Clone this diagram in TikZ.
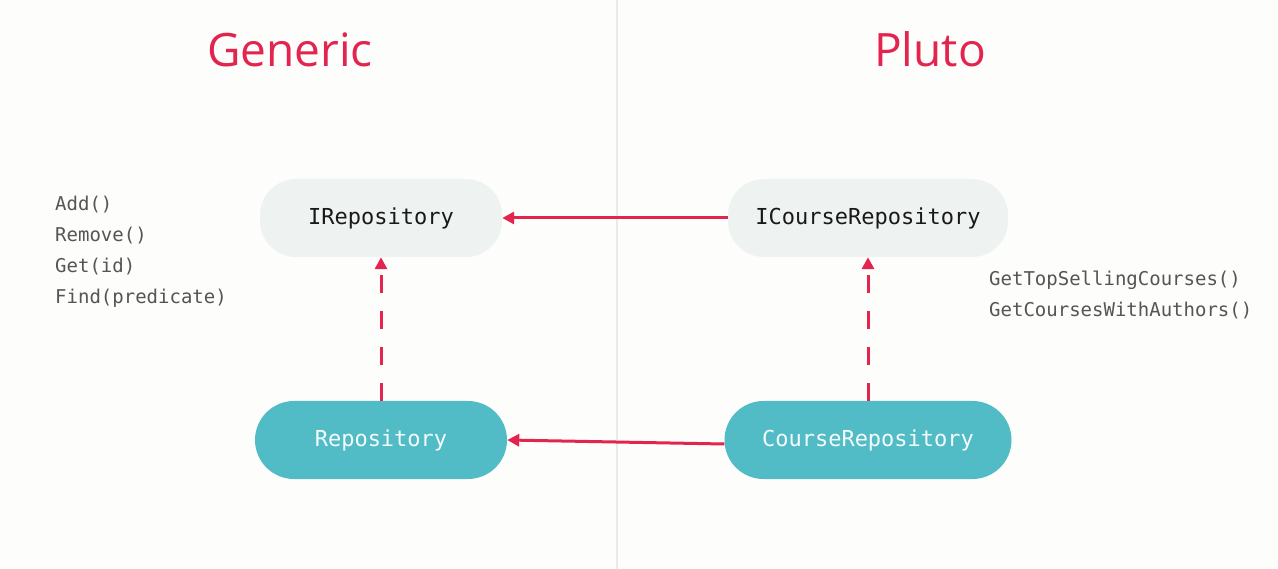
\documentclass[tikz,border=0pt]{standalone}
\usepackage{fontspec}
\setmainfont{Open Sans}
\setmonofont{DejaVu Sans Mono}
\usetikzlibrary{arrows.meta,positioning}
\definecolor{plured}{HTML}{E3244F}
\definecolor{paleface}{HTML}{EEF3F1}
\definecolor{tealface}{HTML}{52BCC6}
\definecolor{methodgray}{HTML}{555555}
\definecolor{pagebg}{HTML}{FDFDFB}
\definecolor{divider}{HTML}{E9E9E7}

\begin{document}
\begin{tikzpicture}[x=1pt,y=-1pt,
  title/.style={font=\fontsize{46}{50}\selectfont,text=plured,anchor=base},
  iface/.style={fill=paleface,rounded corners=36pt,minimum height=78pt,font=\fontsize{22}{24}\selectfont\ttfamily,text=black!90},
  impl/.style={fill=tealface,rounded corners=39pt,minimum height=78pt,font=\fontsize{22}{24}\selectfont\ttfamily,text=white!94!tealface},
  methods/.style={font=\fontsize{19}{31}\selectfont\ttfamily,text=methodgray,align=left,anchor=north west,inner sep=0pt},
  arr/.style={-{Triangle[width=12pt,length=12pt]},draw=plured,line width=3pt},
  implarr/.style={arr,dash pattern=on 18pt off 18pt}]
\useasboundingbox[fill=pagebg] (0,0) rectangle (1278,569);
\draw[divider,line width=2pt] (617,0) -- (617,569);
% titles
\node[title] (generic) at (290,67) {Generic};
\node[title] (pluto) at (930,67) {Pluto};
% interfaces and classes
\node[iface,minimum width=242pt] (irepo) at (381,218) {IRepository};
\node[iface,minimum width=280pt] (icrepo) at (868,218) {ICourseRepository};
\node[impl,minimum width=252pt] (repo) at (381,440) {Repository};
\node[impl,minimum width=287pt] (crepo) at (868,440) {CourseRepository};
% method lists
\node[methods] (genmethods) at (55,196) {Add()\\Remove()\\Get(id)\\Find(predicate)};
\node[methods] (plutomethods) at (989,271) {GetTopSellingCourses()\\GetCoursesWithAuthors()};
\draw[arr] (icrepo.west) -- (irepo.east);
\draw[arr] ([yshift=-4pt]crepo.west) -- (repo.east);
\draw[implarr] (repo.north) -- (irepo.south);
\draw[implarr] (crepo.north) -- (icrepo.south);
\end{tikzpicture}
\end{document}
